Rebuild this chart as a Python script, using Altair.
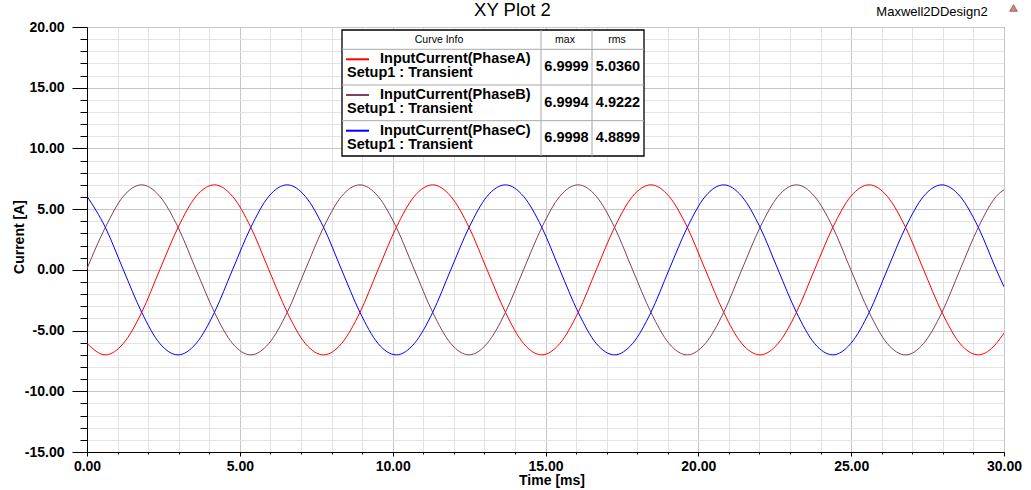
import altair as alt
import pandas as pd

FONT = "Liberation Sans"

# ---- data (time in ms, current in A) ----
time_ms = [0.00, 0.60, 1.19, 1.79, 2.38, 2.98, 3.57, 4.17, 4.76, 5.36, 5.95, 6.55,
           7.14, 7.74, 8.33, 8.93, 9.52, 10.12, 10.71, 11.31, 11.90, 12.50, 13.09, 13.69,
           14.28, 14.88, 15.47, 16.07, 16.66, 17.26, 17.85, 18.45, 19.04, 19.64, 20.23, 20.83,
           21.42, 22.02, 22.61, 23.21, 23.80, 24.40, 24.99, 25.59, 26.18, 26.78, 27.37, 27.97,
           28.56, 29.16, 29.75, 30.00]

phase_a = [-6.06, -7.0, -6.06, -3.5, 0.0, 3.5, 6.06, 7.0, 6.06, 3.5, 0.0, -3.5,
           -6.06, -7.0, -6.06, -3.5, 0.0, 3.5, 6.06, 7.0, 6.06, 3.5, 0.0, -3.5,
           -6.06, -7.0, -6.06, -3.5, 0.0, 3.5, 6.06, 7.0, 6.06, 3.5, 0.0, -3.5,
           -6.06, -7.0, -6.06, -3.5, 0.0, 3.5, 6.06, 7.0, 6.06, 3.5, 0.0, -3.5,
           -6.06, -7.0, -6.06, -5.2]

phase_b = [0.1, 3.5, 6.06, 7.0, 6.06, 3.5, 0.0, -3.5, -6.06, -7.0, -6.06, -3.5,
           0.0, 3.5, 6.06, 7.0, 6.06, 3.5, 0.0, -3.5, -6.06, -7.0, -6.06, -3.5,
           0.0, 3.5, 6.06, 7.0, 6.06, 3.5, 0.0, -3.5, -6.06, -7.0, -6.06, -3.5,
           0.0, 3.5, 6.06, 7.0, 6.06, 3.5, 0.0, -3.5, -6.06, -7.0, -6.06, -3.5,
           0.0, 3.5, 6.06, 6.6]

phase_c = [6.06, 3.5, 0.0, -3.5, -6.06, -7.0, -6.06, -3.5, 0.0, 3.5, 6.06, 7.0,
           6.06, 3.5, 0.0, -3.5, -6.06, -7.0, -6.06, -3.5, 0.0, 3.5, 6.06, 7.0,
           6.06, 3.5, 0.0, -3.5, -6.06, -7.0, -6.06, -3.5, 0.0, 3.5, 6.06, 7.0,
           6.06, 3.5, 0.0, -3.5, -6.06, -7.0, -6.06, -3.5, 0.0, 3.5, 6.06, 7.0,
           6.06, 3.5, 0.0, -1.4]

series_names = ["InputCurrent(PhaseA)", "InputCurrent(PhaseB)", "InputCurrent(PhaseC)"]
series_colors = ["#ff0000", "#7f3f60", "#0000ff"]
max_vals = ["6.9999", "6.9994", "6.9998"]
rms_vals = ["5.0360", "4.9222", "4.8899"]
setup_label = "Setup1 : Transient"

y_ticks = list(range(-15, 21))
x_ticks = list(range(0, 31))

# ---- long table for the curves ----
rows = []
for name, vals in zip(series_names, [phase_a, phase_b, phase_c]):
    for t, v in zip(time_ms, vals):
        rows.append({"time": t, "value": v, "series": name})
df = pd.DataFrame(rows)

major = "datum.value % 5 === 0"
lab = ("datum.value % 5 === 0 ? (datum.value < 0 ? '-' : '') + "
       "format(abs(datum.value), '.2f') : ''")

lines = alt.Chart(df).mark_line(strokeWidth=1, interpolate="monotone", clip=True).encode(
    x=alt.X("time:Q", scale=alt.Scale(domain=[0, 30], nice=False, zero=False),
            axis=alt.Axis(values=x_ticks, title=None, grid=True,
                          gridColor={"condition": {"test": major, "value": "#c6c6c6"}, "value": "#e3e3e3"},
                          tickSize={"condition": {"test": major, "value": 4}, "value": 2},
                          tickColor="black", domainColor="black",
                          labelExpr=lab, labelFont=FONT, labelFontSize=14,
                          labelFontWeight="bold", labelColor="black", labelPadding=3,
                          labelOverlap=False, labelFlush=False)),
    y=alt.Y("value:Q", scale=alt.Scale(domain=[-15, 20], nice=False, zero=False),
            axis=alt.Axis(values=y_ticks, title=None, grid=True,
                          gridColor={"condition": {"test": major, "value": "#c6c6c6"}, "value": "#e3e3e3"},
                          tickSize={"condition": {"test": major, "value": 15}, "value": 7},
                          tickColor="black", domainColor="black",
                          labelExpr=lab, labelFont=FONT, labelFontSize=14,
                          labelFontWeight="bold", labelColor="black", labelPadding=8,
                          labelOverlap=False, labelFlush=False)),
    color=alt.Color("series:N", scale=alt.Scale(domain=series_names, range=series_colors),
                    legend=None),
)

one = pd.DataFrame({"k": [0]})


def txt(s, x, y, size, weight="normal", align="center", angle=0, color="black"):
    return alt.Chart(one).mark_text(
        text=s, font=FONT, fontSize=size, fontWeight=weight, align=align,
        baseline="middle", angle=angle, color=color,
    ).encode(x=alt.value(x), y=alt.value(y))


def rule(x1, x2, y1, y2, color, width=1):
    return alt.Chart(one).mark_rule(color=color, strokeWidth=width).encode(
        x=alt.value(x1), x2=alt.value(x2), y=alt.value(y1), y2=alt.value(y2))


layers = [lines]

# ---- curve-info table ----
T_L, T_R, T_T, T_B = 255, 557, 3, 129
C1, C2 = 454, 505
ROW0, ROW_H = 22.3, 35.7
layers.append(alt.Chart(one).mark_rect(fill="white", stroke="black", strokeWidth=1.3).encode(
    x=alt.value(T_L), x2=alt.value(T_R), y=alt.value(T_T), y2=alt.value(T_B)))
for i in range(3):
    yy = ROW0 + ROW_H * i
    layers.append(rule(T_L, T_R, yy, yy, "#a8a8a8"))
layers.append(rule(C1, C1, T_T, T_B, "#a8a8a8"))
layers.append(rule(C2, C2, T_T, T_B, "#a8a8a8"))
layers.append(txt("Curve Info", 352, 12.5, 10.5))
layers.append(txt("max", 478, 12.5, 10.5))
layers.append(txt("rms", 530, 12.5, 10.5))
for i, (name, col, mx, rms) in enumerate(zip(series_names, series_colors, max_vals, rms_vals)):
    top = ROW0 + ROW_H * i
    layers.append(rule(259, 282, top + 10, top + 10, col, 2))
    layers.append(txt(name, 293, top + 10, 14.5, "bold", "left"))
    layers.append(txt(setup_label, 260, top + 24, 14.5, "bold", "left"))
    layers.append(txt(mx, 479.5, top + 17.5, 14.5, "bold"))
    layers.append(txt(rms, 531, top + 17.5, 14.5, "bold"))

# ---- titles ----
layers.append(txt("XY Plot 2", 425.5, -17, 18.5))
layers.append(txt("Maxwell2DDesign2", 845, -15, 13))
layers.append(txt("Current [A]", -67, 210, 14, "bold", angle=270))
layers.append(txt("Time [ms]", 465, 454, 14, "bold"))
layers.append(alt.Chart(one).mark_point(shape="triangle-up", filled=True, fill="#9a9a9a",
                                        stroke="#e00000", strokeWidth=0.6, size=60,
                                        opacity=1).encode(
    x=alt.value(926.5), y=alt.value(-19)))

chart = alt.layer(*layers).properties(
    width=917, height=425,
    padding={"left": 87, "top": 27, "right": 27, "bottom": 38},
    autosize=alt.AutoSizeParams(type="none"),
    background="white",
).configure_view(stroke="black", strokeWidth=1)

chart.save("out.html", embed_options={"renderer": "svg", "actions": False})
